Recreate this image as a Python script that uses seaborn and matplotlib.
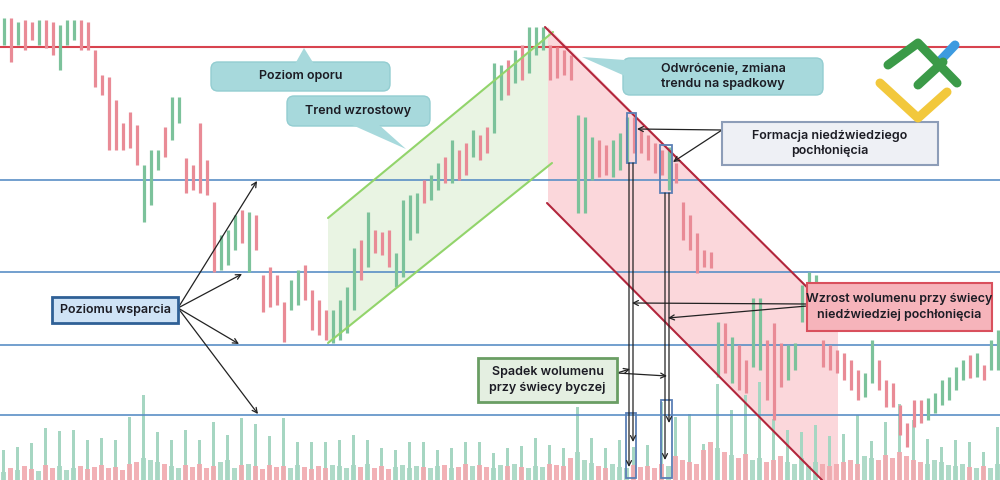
import matplotlib.pyplot as plt
import matplotlib.patches as mpatches
import numpy as np
import seaborn as sns

sns.set_theme(style="white")
plt.rcParams['font.family'] = ['Inter', 'DejaVu Sans']

# candle ranges (price units), one per bar
highs = [462, 462, 458, 460, 458, 460, 460, 458, 455, 460,
         460, 460, 458, 430, 405, 403, 380, 357, 368, 355,
         315, 330, 330, 353, 383, 383, 322, 315, 357, 320,
         278, 245, 250, 265, 270, 268, 265, 205, 213, 205,
         178, 200, 210, 215, 190, 180, 170, 170, 180, 193,
         232, 240, 268, 250, 248, 250, 227, 280, 285, 287,
         300, 305, 317, 323, 340, 330, 337, 350, 345, 353,
         417, 415, 420, 430, 435, 453, 453, 453, 435, 433,
         430, 425, 365, 363, 343, 340, 335, 340, 347, 363,
         363, 350, 345, 337, 330, 333, 317, 278, 265, 247,
         230, 228, 158, 157, 143, 135, 120, 182, 182, 140,
         157, 137, 135, 137, 195, 208, 205, 140, 135, 130,
         127, 120, 110, 107, 140, 120, 100, 97, 75, 57,
         80, 80, 82, 87, 100, 103, 113, 120, 125, 127,
         115, 140, 150]
lows = [435, 418, 435, 430, 440, 435, 432, 425, 410, 435,
        440, 430, 430, 393, 385, 330, 330, 330, 332, 315,
        258, 275, 310, 323, 340, 357, 287, 290, 287, 285,
        208, 210, 215, 230, 237, 208, 230, 168, 173, 175,
        138, 170, 175, 180, 150, 145, 140, 137, 140, 147,
        170, 200, 213, 227, 225, 213, 193, 203, 240, 247,
        277, 280, 290, 297, 297, 300, 305, 323, 320, 327,
        347, 380, 385, 397, 400, 407, 425, 430, 400, 402,
        405, 400, 267, 267, 300, 303, 305, 303, 310, 317,
        327, 327, 320, 307, 305, 290, 297, 240, 230, 207,
        213, 212, 103, 107, 97, 90, 87, 113, 110, 80,
        60, 93, 100, 110, 158, 160, 180, 113, 110, 107,
        100, 90, 80, 83, 97, 90, 73, 73, 45, 33,
        53, 57, 60, 67, 75, 80, 90, 100, 102, 103,
        100, 110, 110]
# g = bullish, p = bearish
direction = ("gpgppgppgg" "gppppppppp" "gggpggpppp" "pgggpgpppp" "pggppppggg"
             "gpgpppgggg" "pggpgppgpp" "ggpgpgggpp" "ppgggppggg" "pppppgpppp"
             "ppgpgppggp" "ppgggggppp" "pppggppppp" "ppggggggpg" "pgg")

vol_base = [8, 12, 10, 14, 11, 9, 15, 12, 14, 10,
            12, 14, 11, 13, 15, 12, 13, 10, 16, 18,
            22, 20, 18, 16, 14, 12, 15, 13, 16, 12,
            14, 18, 20, 12, 15, 16, 14, 11, 15, 13,
            14, 12, 15, 13, 11, 14, 12, 15, 14, 12,
            15, 13, 16, 12, 14, 11, 13, 15, 12, 14,
            13, 12, 14, 15, 12, 13, 16, 14, 15, 13,
            12, 15, 14, 16, 13, 12, 14, 13, 16, 15,
            14, 22, 28, 20, 17, 14, 12, 16, 13, 12,
            15, 13, 14, 12, 16, 14, 24, 20, 18, 16,
            30, 38, 32, 28, 25, 22, 26, 20, 22, 18,
            20, 24, 18, 16, 22, 14, 18, 16, 14, 16,
            18, 20, 16, 24, 22, 20, 25, 22, 28, 24,
            20, 18, 16, 20, 18, 15, 14, 16, 13, 12,
            14, 12, 16]
# volume spikes on every second bar
vol_spike = [30, 33, 37, 52, 49, 50, 40, 42, 40, 63,
             85, 48, 40, 50, 40, 58, 45, 62, 56, 44,
             62, 38, 38, 38, 40, 45, 40, 32, 30, 38,
             38, 30, 32, 38, 38, 27, 32, 34, 42, 35,
             32, 73, 42, 32, 40, 33, 35, 78, 63, 66,
             36, 96, 70, 85, 98, 61, 50, 48, 55, 44,
             46, 65, 39, 58, 76, 60, 41, 33, 40, 38,
             28, 53]

resistance = 433
supports = [300, 208, 135, 65]

UP, DOWN = "#7cc29b", "#e98b96"
UP_V, DOWN_V = "#a6d6c2", "#f1a9ae"
TEAL, TEAL_EDGE = "#a7d9dc", "#93cdd1"
TXT = "#1c1c24"

fig = plt.figure(figsize=(10, 4.8), dpi=100)
ax = fig.add_axes([0, 0, 1, 1])
ax.set_xlim(0, 1000)
ax.set_ylim(0, 480)
ax.axis('off')

x = 3.5 + 7 * np.arange(len(highs))

# channel shading
ax.add_patch(mpatches.Polygon([(328, 137), (328, 262), (550, 445), (550, 315)],
                              closed=True, fc="#e9f4e3", ec="none", zorder=0))
ax.add_patch(mpatches.Polygon([(548, 453), (838, 162), (838, 0), (822, 0), (548, 277)],
                              closed=True, fc="#fbd7db", ec="none", zorder=0))

# levels
ax.axhline(resistance, color="#d8434f", lw=1.5, zorder=2)
for lv in supports:
    ax.axhline(lv, color="#5a8fc6", lw=1.2, zorder=2)

# volume
ax.bar(x[::2], vol_spike, width=2.4, color=UP_V, edgecolor="none", linewidth=0, zorder=1)
ax.bar(x, vol_base, width=5.8, color=[UP_V if d == "g" else DOWN_V for d in direction],
       edgecolor="none", linewidth=0, alpha=0.9, zorder=1)

# candles
ax.vlines(x, lows, highs, colors=[UP if d == "g" else DOWN for d in direction],
          lw=2.3, zorder=3)

# channel lines
ax.plot([328, 553], [262, 448], color="#92d46b", lw=1.5, zorder=4)
ax.plot([328, 552], [137, 317], color="#92d46b", lw=1.5, zorder=4)
ax.plot([545, 838], [453, 162], color="#b2263c", lw=1.5, zorder=4)
ax.plot([547, 822], [277, 0], color="#b2263c", lw=1.5, zorder=4)

# highlight rectangles
for (x0, y0, w, h) in [(627, 317, 9, 50), (660, 287, 12, 48), (626, 2, 10, 65), (661, 2, 11, 78)]:
    ax.add_patch(mpatches.Rectangle((x0, y0), w, h, fill=False, ec="#5b7fb5", lw=1.3, zorder=5))

arrow = dict(arrowstyle="->", color="#222222", lw=0.9, shrinkA=0, shrinkB=0, mutation_scale=9)


def arr(start, end):
    ax.annotate("", xy=end, xytext=start, arrowprops=arrow, zorder=6)


for xs, y0, y1 in [(629, 317, 13), (633, 317, 38), (665, 287, 20), (669, 287, 57)]:
    arr((xs, y0), (xs, y1))


def box(x0, y0, x1, y1, fc, ec, lw, text, rounded=False, size=9):
    style = "round,pad=0,rounding_size=7" if rounded else "square,pad=0"
    ax.add_patch(mpatches.FancyBboxPatch((x0, y0), x1 - x0, y1 - y0, boxstyle=style,
                                         fc=fc, ec=ec, lw=lw, zorder=7))
    ax.text((x0 + x1) / 2, (y0 + y1) / 2, text, ha="center", va="center", fontsize=size,
            fontweight="semibold", color=TXT, linespacing=1.35, zorder=9)


def pointer(pts):
    ax.add_patch(mpatches.Polygon(pts, closed=True, fc=TEAL, ec="none", zorder=8))


box(211, 389, 390, 418, TEAL, TEAL_EDGE, 1, "Poziom oporu", rounded=True)
pointer([(295, 416), (304, 432), (314, 416)])
box(287, 354, 430, 384, TEAL, TEAL_EDGE, 1, "Trend wzrostowy", rounded=True)
pointer([(350, 356), (406, 331), (378, 356)])
box(623, 385, 823, 422, TEAL, TEAL_EDGE, 1, "Odwrócenie, zmiana\ntrendu na spadkowy", rounded=True)
pointer([(625, 420), (582, 423), (625, 404)])

box(722, 315, 938, 358, "#eef0f5", "#8d9db8", 1.5, "Formacja niedźwiedziego\npochłonięcia")
arr((722, 350), (637, 351))
arr((722, 350), (673, 318))

box(52, 157, 178, 183, "#cfe3f6", "#2f6096", 2, "Poziomu wsparcia")
for end in [(257, 299), (242, 206), (239, 136), (258, 66)]:
    arr((178, 172), end)

box(807, 149, 992, 197, "#f6b4bb", "#d9505d", 1.5, "Wzrost wolumenu przy świecy\nniedźwiedziej pochłonięcia")
arr((807, 176), (632, 177))
arr((807, 174), (668, 162))

box(478, 78, 617, 122, "#e4efe1", "#6a9e64", 2, "Spadek wolumenu\nprzy świecy byczej")
arr((617, 107), (630, 111))
arr((617, 107), (667, 104))

# logo
cap = dict(solid_capstyle="round", solid_joinstyle="round", lw=6.5, zorder=9)
ax.plot([880, 918, 947], [397, 362, 388], color="#f2c83c", **cap)
ax.plot([938, 955], [417, 435], color="#3d9be0", **cap)
ax.plot([888, 918, 957], [415, 437, 397], color="#3b9a48", **cap)
ax.plot([918, 943], [395, 418], color="#3b9a48", **cap)

fig.savefig("out.png", dpi=100)
